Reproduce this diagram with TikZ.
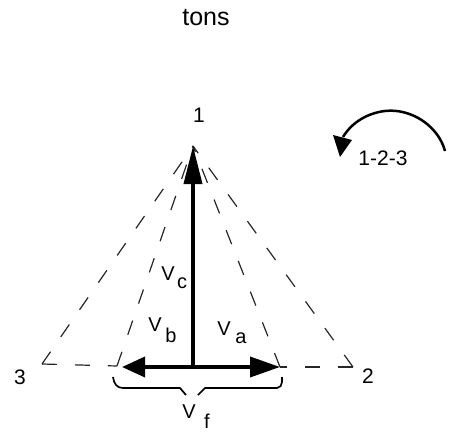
\documentclass[tikz,border=0pt]{standalone}
\usepackage{fontspec}
\setmainfont{Liberation Sans}
\usetikzlibrary{arrows.meta}
\tikzset{
  lbl/.style={inner sep=0pt,font=\fontsize{21}{23}\selectfont},
  big/.style={inner sep=0pt,font=\fontsize{20}{22}\selectfont},
  dash line/.style={line width=1.2pt,dash pattern=on 15pt off 18pt,black!85},
  shaft/.style={line width=3.7pt},
}
\begin{document}
\begin{tikzpicture}[x=1pt,y=-1pt]
\useasboundingbox (0,0) rectangle (449,433);
\coordinate (apex) at (193,146);
\coordinate (c3) at (42,364);
\coordinate (c2) at (353,367);
\coordinate (fl) at (117,366);
\coordinate (fr) at (280,367);
\coordinate (o) at (193,367);
\coordinate (tl) at (122,367);
\coordinate (tr) at (280,367);
\draw[dash line] (c3) -- (apex);
\draw[dash line] (c3) -- (fl);
\draw[dash line] (fl) -- (apex);
\draw[dash line] (fr) -- (apex);
\draw[dash line] (c2) -- (apex);
\draw[dash line] (c2) -- (fr);
\draw[shaft,-{Triangle[length=38pt,width=18pt]}] (o) -- (apex);
\draw[shaft,-{Triangle[length=23pt,width=20pt]}] (o) -- (tl);
\draw[shaft,-{Triangle[length=30pt,width=20pt]}] (o) -- (tr);
\coordinate (ba) at (445,151);
\coordinate (bb) at (343,137);
\draw[line width=2.5pt] (ba) .. controls (438,125) and (410,108) .. (385,111) .. controls (368,113) and (352,122) .. (bb);
\fill (333,135) -- (352,140) -- (340,157) -- cycle;
\coordinate (b1) at (113,377);
\coordinate (b2) at (186,395);
\coordinate (b3) at (198,395);
\coordinate (b4) at (282,377);
\draw[line width=1.7pt] (b1) .. controls (114,384) and (117,388) .. (123,388) -- (180,388) -- (b2);
\draw[line width=1.7pt] (b3) -- (205,388) -- (277,388) .. controls (280,388) and (282,385) .. (282,382) -- (b4);
\node[inner sep=0pt,font=\fontsize{25}{27}\selectfont] (t) at (206,18) {tons};
\node[lbl] (n1) at (199,115) {1};
\node[lbl] (n2) at (368,376) {2};
\node[lbl] (n3) at (20,377) {3};
\node[lbl] (n123) at (383,158) {1-2-3};
\node[big] (vc) at (168,274) {V};
\node[big] (vcs) at (182,283) {c};
\node[big] (vb) at (155,325) {V};
\node[big] (vbs) at (171,335) {b};
\node[big] (va) at (224,329) {V};
\node[big] (vas) at (241,338) {a};
\node[big] (vf) at (189,412) {V};
\node[big] (vfs) at (207,421) {f};
\end{tikzpicture}
\end{document}
